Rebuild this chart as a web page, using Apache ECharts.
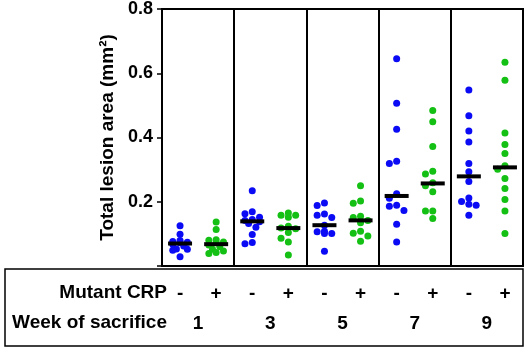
<!DOCTYPE html>
<html>
<head>
<meta charset="utf-8">
<script src="https://cdn.jsdelivr.net/npm/echarts@6/dist/echarts.min.js"></script>
<style>
  html, body { margin: 0; padding: 0; background: #fff; }
  #main { width: 529px; height: 349px; }
</style>
</head>
<body>
<div id="main"></div>
<script>
// categories: mutant CRP flag per column, week per pair of columns
var crpFlags = ['-', '+', '-', '+', '-', '+', '-', '+', '-', '+'];
var weeks = ['1', '3', '5', '7', '9'];

// lesion area (mm2), one list per week
var crpMinus = [
    [0.125, 0.099, 0.079, 0.076, 0.074, 0.072, 0.068, 0.062, 0.053, 0.052, 0.049, 0.029],
    [0.234, 0.169, 0.163, 0.152, 0.145, 0.142, 0.138, 0.132, 0.121, 0.098, 0.073, 0.069],
    [0.196, 0.188, 0.162, 0.158, 0.151, 0.127, 0.108, 0.107, 0.101, 0.101, 0.046],
    [0.645, 0.507, 0.426, 0.326, 0.319, 0.225, 0.211, 0.189, 0.186, 0.173, 0.130, 0.075],
    [0.548, 0.468, 0.420, 0.386, 0.319, 0.293, 0.263, 0.212, 0.201, 0.192, 0.189, 0.158]
];
var crpPlus = [
    [0.137, 0.114, 0.082, 0.080, 0.075, 0.072, 0.065, 0.060, 0.052, 0.047, 0.042, 0.039],
    [0.165, 0.158, 0.158, 0.152, 0.124, 0.118, 0.116, 0.104, 0.086, 0.075, 0.034],
    [0.250, 0.202, 0.195, 0.155, 0.151, 0.142, 0.135, 0.108, 0.102, 0.093, 0.077],
    [0.484, 0.449, 0.372, 0.295, 0.286, 0.259, 0.250, 0.231, 0.171, 0.171, 0.148],
    [0.634, 0.578, 0.414, 0.378, 0.350, 0.312, 0.301, 0.272, 0.241, 0.207, 0.171, 0.101]
];
var medianMinus = [0.070, 0.139, 0.127, 0.218, 0.279];
var medianPlus = [0.068, 0.118, 0.142, 0.257, 0.307];

var blue = '#0a0af5';
var green = '#14c014';
var font = 'Liberation Sans';

function pointsOf(lists, side) {
    var out = [];
    lists.forEach(function (vals, w) {
        vals.forEach(function (v) { out.push({ value: [w * 2 + side, v] }); });
    });
    return out;
}
function medianPoints(meds, side) {
    return meds.map(function (m, w) { return [w * 2 + side, m]; });
}

var myChart = echarts.init(document.getElementById('main'));

var option = {
    animation: false,
    backgroundColor: '#fff',
    grid: {
        left: 162, right: 6, top: 7, bottom: 83,
        show: true, borderColor: '#000', borderWidth: 2
    },
    xAxis: [
        {
            type: 'category',
            data: crpFlags,
            axisLine: { lineStyle: { color: '#000', width: 2 } },
            axisTick: { alignWithLabel: true, length: 7, lineStyle: { color: '#000', width: 1.5 } },
            axisLabel: { margin: 18, color: '#000', fontSize: 19, fontWeight: 'bold', fontFamily: font },
            splitLine: { show: false }
        },
        {
            type: 'category',
            data: weeks,
            position: 'bottom',
            axisLine: { show: false },
            axisTick: { show: false },
            axisLabel: { margin: 48, color: '#000', fontSize: 19, fontWeight: 'bold', fontFamily: font },
            splitLine: {
                show: true,
                interval: function (i) { return i > 0; },
                lineStyle: { color: '#000', width: 2 }
            }
        }
    ],
    yAxis: {
        type: 'value',
        min: 0, max: 0.8, interval: 0.2,
        name: 'Total lesion area (mm²)',
        nameLocation: 'middle',
        nameGap: 44,
        nameTextStyle: { color: '#000', fontSize: 19, fontWeight: 'bold', fontFamily: font },
        axisLine: { show: true, lineStyle: { color: '#000', width: 2 } },
        axisTick: { show: true, length: 5, lineStyle: { color: '#000', width: 1.5 } },
        axisLabel: {
            margin: 9, color: '#000', fontSize: 18, fontWeight: 'bold', fontFamily: font,
            formatter: function (v) { return v === 0 ? '' : v.toFixed(1); }
        },
        splitLine: { show: false }
    },
    graphic: [
        {
            type: 'rect', silent: true,
            shape: { x: 5, y: 269, width: 518, height: 77 },
            style: { fill: 'none', stroke: '#000', lineWidth: 1.5 }
        },
        {
            type: 'text', x: 167, y: 293,
            style: { text: 'Mutant CRP', align: 'right', verticalAlign: 'middle', fill: '#000',
                fontSize: 19, fontWeight: 'bold', fontFamily: font }
        },
        {
            type: 'text', x: 167, y: 323,
            style: { text: 'Week of sacrifice', align: 'right', verticalAlign: 'middle', fill: '#000',
                fontSize: 19, fontWeight: 'bold', fontFamily: font }
        }
    ],
    series: [
        {
            name: 'CRP -', type: 'scatter', symbolSize: 7,
            itemStyle: { color: blue, opacity: 1 },
            data: pointsOf(crpMinus, 0)
        },
        {
            name: 'CRP +', type: 'scatter', symbolSize: 7,
            itemStyle: { color: green, opacity: 1 },
            data: pointsOf(crpPlus, 1)
        },
        {
            name: 'median -', type: 'scatter', symbol: 'rect', symbolSize: [24, 4], z: 5,
            itemStyle: { color: '#000', opacity: 1 },
            data: medianPoints(medianMinus, 0)
        },
        {
            name: 'median +', type: 'scatter', symbol: 'rect', symbolSize: [24, 4], z: 5,
            itemStyle: { color: '#000', opacity: 1 },
            data: medianPoints(medianPlus, 1)
        }
    ]
};
myChart.setOption(option);

// column scatter: spread close points into at most three columns
function swarm(lists, side) {
    var step = 7.3, minDist = 6;
    var out = [];
    lists.forEach(function (vals, w) {
        var placed = [];
        vals.forEach(function (v) {
            var py = myChart.convertToPixel({ yAxisIndex: 0 }, v);
            var cands = [0, -step, step, -step / 2, step / 2];
            var best = 0, bestHit = Infinity;
            for (var c = 0; c < cands.length; c++) {
                var hit = 0;
                placed.forEach(function (p) {
                    var dx = cands[c] - p.dx, dy = py - p.py;
                    var d2 = dx * dx + dy * dy;
                    if (d2 < minDist * minDist) hit += minDist * minDist - d2;
                });
                if (hit < bestHit) { bestHit = hit; best = cands[c]; }
                if (hit === 0) break;
            }
            placed.push({ dx: best, py: py });
            out.push({ value: [w * 2 + side, v], symbolOffset: [best, 0] });
        });
    });
    return out;
}
myChart.setOption({
    series: [
        { name: 'CRP -', data: swarm(crpMinus, 0) },
        { name: 'CRP +', data: swarm(crpPlus, 1) }
    ]
});
</script>
</body>
</html>
